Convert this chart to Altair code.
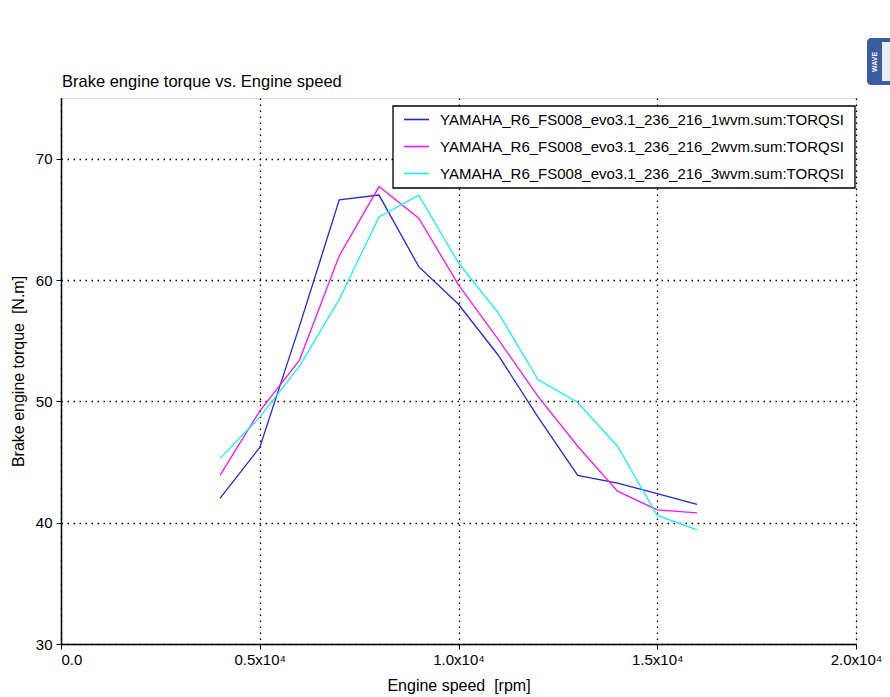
import altair as alt
import pandas as pd

speed = [4000, 5000, 6000, 7000, 8000, 9000, 10000, 11000, 12000, 13000, 14000, 15000, 16000]
run1 = [42.0, 46.2, 56.2, 66.6, 67.0, 61.1, 58.0, 53.8, 48.7, 43.9, 43.25, 42.4, 41.5]
run2 = [43.9, 49.2, 53.4, 62.0, 67.7, 65.1, 59.6, 55.1, 50.4, 46.3, 42.6, 41.05, 40.8]
run3 = [45.3, 48.7, 52.9, 58.4, 65.2, 67.0, 61.4, 57.3, 51.8, 49.9, 46.3, 40.6, 39.4]
names = [
    "YAMAHA_R6_FS008_evo3.1_236_216_1wvm.sum:TORQSI",
    "YAMAHA_R6_FS008_evo3.1_236_216_2wvm.sum:TORQSI",
    "YAMAHA_R6_FS008_evo3.1_236_216_3wvm.sum:TORQSI",
]
colors = ["#2424F0", "#FF10FF", "#10F4F4"]
x_ticks = [0, 5000, 10000, 15000, 20000]
y_ticks = [30, 40, 50, 60, 70]
title_text = "Brake engine torque vs. Engine speed"

rows = []
for name, series in zip(names, [run1, run2, run3]):
    for s, v in zip(speed, series):
        rows.append({"speed": s, "torque": v, "run": name})
df = pd.DataFrame(rows)

FONT = "Liberation Sans"
NB = "\u00a0"

lines = alt.Chart(df).mark_line(strokeWidth=1.3).encode(
    x=alt.X(
        "speed:Q",
        scale=alt.Scale(domain=[0, 20000], nice=False, zero=False),
        axis=alt.Axis(
            values=x_ticks,
            title="Engine speed" + NB + NB + "[rpm]",
            labelExpr="datum.value == 0 ? '0.0' : format(datum.value/10000, '.1f') + 'x10⁴'",
            labelFlush=False,
            labelAlign={"condition": {"test": "datum.value == 0", "value": "left"}, "value": "center"},
            grid=True,
            gridDash=[1.5, 4.5],
            gridColor="#000000",
            gridWidth=1.3,
            gridOpacity=1,
            domainColor="#000000",
            domainWidth=1.5,
            tickColor="#000000",
            tickSize=5,
            labelFontSize=15,
            labelColor="#000000",
            labelPadding=3,
            titleFontSize=16,
            titleFontWeight="normal",
            titleColor="#000000",
            titlePadding=10,
            labelFont=FONT,
            titleFont=FONT,
        ),
    ),
    y=alt.Y(
        "torque:Q",
        scale=alt.Scale(domain=[30, 75], nice=False, zero=False),
        axis=alt.Axis(
            values=y_ticks,
            title="Brake engine torque" + NB + NB + "[N.m]",
            grid=True,
            gridDash=[1.5, 4.5],
            gridColor="#000000",
            gridWidth=1.3,
            gridOpacity=1,
            domainColor="#000000",
            domainWidth=1.5,
            tickColor="#000000",
            tickSize=5,
            labelFontSize=15,
            labelColor="#000000",
            labelPadding=4,
            titleFontSize=16,
            titleFontWeight="normal",
            titleColor="#000000",
            titlePadding=9,
            labelFont=FONT,
            titleFont=FONT,
        ),
    ),
    color=alt.Color(
        "run:N",
        scale=alt.Scale(domain=names, range=colors),
        legend=alt.Legend(
            title=None,
            orient="none",
            legendX=342,
            legendY=8,
            padding=0,
            symbolType="stroke",
            symbolSize=625,
            symbolStrokeWidth=1.6,
            labelFontSize=15,
            labelFont=FONT,
            labelColor="#000000",
            labelLimit=0,
            labelOffset=10,
            rowPadding=5,
        ),
    ),
)

one = pd.DataFrame({"k": [0]})
legend_box = alt.Chart(one).mark_rect(fill="#FFFFFF", stroke="#000000", strokeWidth=1.3).encode(
    x=alt.value(332), x2=alt.value(794), y=alt.value(8), y2=alt.value(90)
)
title_mark = alt.Chart(one).mark_text(
    text=title_text, align="left", baseline="alphabetic", fontSize=16.5, font=FONT, color="#000000"
).encode(x=alt.value(1), y=alt.value(-11))
logo = alt.Chart(one).mark_rect(fill="#3B5C9E", cornerRadius=4).encode(
    x=alt.value(806), x2=alt.value(845), y=alt.value(-60), y2=alt.value(-13)
)
logo_inner = alt.Chart(one).mark_rect(fill="#E8EEF6").encode(
    x=alt.value(821), x2=alt.value(845), y=alt.value(-56), y2=alt.value(-17)
)
logo_text = alt.Chart(one).mark_text(
    text="WAVE", angle=270, color="#FFFFFF", fontSize=7, fontWeight="bold", font=FONT
).encode(x=alt.value(814), y=alt.value(-36))

chart = alt.layer(lines, legend_box, title_mark, logo, logo_inner, logo_text).properties(
    width=795,
    height=546,
    padding={"left": 61, "top": 98, "right": 34, "bottom": 53},
    autosize=alt.AutoSizeParams(type="none"),
).configure_view(stroke="#000000", strokeWidth=1.5).configure(background="#FFFFFF")

chart.save("out.html", embed_options={"renderer": "svg", "actions": False})
